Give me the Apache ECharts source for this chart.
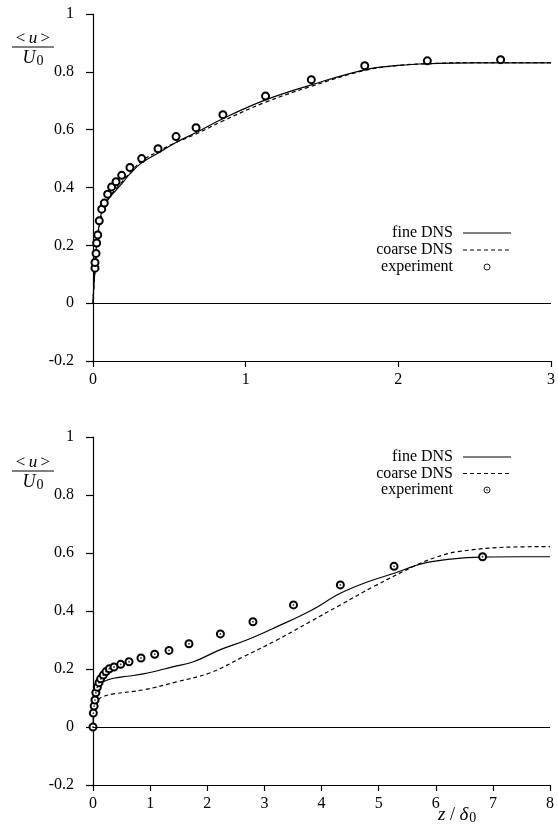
<!DOCTYPE html>
<html>
<head>
<meta charset="utf-8">
<script src="https://cdn.jsdelivr.net/npm/echarts@6/dist/echarts.min.js"></script>
<style>
html,body{margin:0;padding:0;background:#fff;}
#c{width:558px;height:825px;}
</style>
</head>
<body>
<div id="c"></div>
<script>
// ---- Top panel data ----
var topFineZ = [0, 0.002, 0.009, 0.024, 0.04, 0.057, 0.1, 0.15, 0.2, 0.24, 0.32, 0.43, 0.54, 0.675, 0.85, 1.13, 1.43, 1.78, 2.0, 2.19, 2.5, 3.0];
var topFineV = [0, 0.03, 0.084, 0.21, 0.27, 0.314, 0.36, 0.39, 0.42, 0.446, 0.486, 0.52, 0.555, 0.59, 0.638, 0.703, 0.755, 0.807, 0.822, 0.828, 0.831, 0.831];
var topCoarseZ = [0, 0.002, 0.01, 0.025, 0.06, 0.1, 0.2, 0.32, 0.43, 0.54, 0.675, 0.85, 1.13, 1.43, 1.78, 2.0, 2.19, 2.5, 3.0];
var topCoarseV = [0, 0.02, 0.09, 0.2, 0.31, 0.36, 0.425, 0.492, 0.525, 0.555, 0.585, 0.63, 0.695, 0.75, 0.805, 0.822, 0.828, 0.832, 0.832];
var topExpZ = [0.013, 0.013, 0.02, 0.024, 0.031, 0.041, 0.057, 0.074, 0.096, 0.122, 0.151, 0.188, 0.242, 0.319, 0.426, 0.544, 0.675, 0.851, 1.13, 1.43, 1.78, 2.19, 2.67];
var topExpV = [0.121, 0.141, 0.172, 0.208, 0.236, 0.285, 0.325, 0.346, 0.377, 0.402, 0.42, 0.442, 0.469, 0.5, 0.534, 0.576, 0.607, 0.652, 0.716, 0.773, 0.821, 0.838, 0.842];
var topXTicks = [0, 1, 2, 3];

// ---- Bottom panel data ----
var botFineZ = [0, 0.01, 0.03, 0.065, 0.12, 0.18, 0.36, 0.6, 0.88, 1.41, 1.76, 2.22, 2.69, 3.22, 3.8, 4.33, 4.8, 5.27, 5.78, 6.3, 6.82, 7.5, 8];
var botFineV = [0, 0.05, 0.095, 0.128, 0.145, 0.156, 0.168, 0.175, 0.183, 0.208, 0.225, 0.266, 0.30, 0.346, 0.40, 0.461, 0.50, 0.53, 0.564, 0.58, 0.586, 0.587, 0.587];
var botCoarseZ = [0, 0.01, 0.035, 0.09, 0.18, 0.36, 0.88, 1.47, 2.05, 2.63, 3.22, 3.8, 4.33, 4.91, 5.67, 6.0, 6.37, 7.25, 8];
var botCoarseV = [0, 0.03, 0.059, 0.093, 0.105, 0.114, 0.128, 0.156, 0.187, 0.242, 0.30, 0.363, 0.421, 0.484, 0.559, 0.585, 0.604, 0.62, 0.622];
var botExpZ = [0, 0.006, 0.02, 0.035, 0.05, 0.076, 0.105, 0.134, 0.18, 0.228, 0.286, 0.368, 0.485, 0.63, 0.84, 1.08, 1.33, 1.68, 2.23, 2.80, 3.51, 4.33, 5.27, 6.82];
var botExpV = [0, 0.048, 0.072, 0.093, 0.118, 0.137, 0.153, 0.166, 0.179, 0.191, 0.201, 0.207, 0.216, 0.225, 0.238, 0.251, 0.264, 0.287, 0.321, 0.363, 0.421, 0.49, 0.554, 0.587];
var botXTicks = [0, 1, 2, 3, 4, 5, 6, 7, 8];

var yTicks = [-0.2, 0, 0.2, 0.4, 0.6, 0.8, 1];
var legendNames = ['fine DNS', 'coarse DNS', 'experiment'];

function zip(a, b) { return a.map(function (x, i) { return [x, b[i]]; }); }

var FONT = '"Liberation Serif", "DejaVu Serif", serif';

function xAxisCfg(gi, ticks) {
  return {
    type: 'value', gridIndex: gi,
    min: ticks[0], max: ticks[ticks.length - 1], interval: 1,
    axisLine: { show: true, onZero: false, lineStyle: { color: '#000', width: 1.2 } },
    axisTick: { show: true, inside: false, length: 6, lineStyle: { color: '#000', width: 1.2 } },
    axisLabel: { color: '#000', fontFamily: FONT, fontSize: 16, margin: 11 },
    splitLine: { show: false }
  };
}
function yAxisCfg(gi) {
  return {
    type: 'value', gridIndex: gi,
    min: yTicks[0], max: yTicks[yTicks.length - 1], interval: 0.2,
    axisLine: { show: true, onZero: false, lineStyle: { color: '#000', width: 1.2 } },
    axisTick: { show: true, inside: false, length: 7, lineStyle: { color: '#000', width: 1.2 } },
    axisLabel: { color: '#000', fontFamily: FONT, fontSize: 16, margin: 19,
      formatter: function (v) { return String(Math.round(v * 10) / 10); } },
    splitLine: { show: false }
  };
}
var zeroLine = {
  symbol: 'none', silent: true, animation: false,
  lineStyle: { color: '#000', width: 1, type: 'solid' },
  label: { show: false },
  data: [{ yAxis: 0 }]
};

function lineSeries(name, gi, data, dashed, withZero) {
  var s = {
    name: name, type: 'line', xAxisIndex: gi, yAxisIndex: gi,
    data: data, showSymbol: false, symbol: 'none',
    smooth: 0.4,
    lineStyle: { color: '#000', width: 1.2, type: dashed ? [4, 3] : 'solid' },
    itemStyle: { color: '#000' },
    z: 2
  };
  if (withZero) s.markLine = zeroLine;
  return s;
}

function legendGraphic(x, y0, dy, dotted) {
  var els = [];
  var styleText = { fill: '#000', font: '16px ' + FONT, textAlign: 'right', textVerticalAlign: 'middle' };
  legendNames.forEach(function (n, i) {
    els.push({ type: 'text', x: x, y: y0 + i * dy,
      style: Object.assign({ text: n }, styleText) });
  });
  els.push({ type: 'line', shape: { x1: x + 10, y1: y0, x2: x + 58, y2: y0 },
    style: { stroke: '#000', lineWidth: 1.2 } });
  els.push({ type: 'line', shape: { x1: x + 10, y1: y0 + dy, x2: x + 58, y2: y0 + dy },
    style: { stroke: '#000', lineWidth: 1.2, lineDash: [4, 3] } });
  els.push({ type: 'circle', shape: { cx: x + 34, cy: y0 + 2 * dy, r: 3 },
    style: { stroke: '#000', fill: '#fff', lineWidth: 0.9 } });
  if (dotted) {
    els.push({ type: 'circle', shape: { cx: x + 34, cy: y0 + 2 * dy, r: 0.8 },
      style: { fill: '#000' } });
  }
  return els;
}

function yLabelGraphic(cx, cy) {
  return [
    { type: 'text', x: cx, y: cy - 8,
      style: { text: '{n|<} {i|u} {n|>}', textAlign: 'center', textVerticalAlign: 'middle',
        rich: { n: { font: '17px ' + FONT, fill: '#000' }, i: { font: 'italic 17px ' + FONT, fill: '#000' } } } },
    { type: 'line', shape: { x1: cx - 21, y1: cy, x2: cx + 21, y2: cy }, style: { stroke: '#000', lineWidth: 1 } },
    { type: 'text', x: cx, y: cy + 11,
      style: { text: '{i|U}{s|0}', textAlign: 'center', textVerticalAlign: 'middle',
        rich: { i: { font: 'italic 18px ' + FONT, fill: '#000' }, s: { font: '14px ' + FONT, fill: '#000', padding: [6, 0, 0, 1] } } } }
  ];
}

var graphics = [].concat(
  legendGraphic(453, 233, 17, false),
  legendGraphic(453, 457, 16.5, true),
  yLabelGraphic(33, 47),
  yLabelGraphic(33, 471),
  [{ type: 'text', x: 438, y: 815,
     style: { text: '{i|z}{n| / }{i|δ}{s|0}', textVerticalAlign: 'middle',
       rich: { i: { font: 'italic 19px ' + FONT, fill: '#000' }, n: { font: '18px ' + FONT, fill: '#000' },
               s: { font: '14px ' + FONT, fill: '#000', padding: [7, 0, 0, 1] } } } }]
);

var chart = echarts.init(document.getElementById('c'), null, { renderer: 'canvas' });
chart.setOption({
  backgroundColor: '#fff',
  animation: false,
  grid: [
    { left: 93, top: 14, width: 458, height: 347 },
    { left: 93, top: 437, width: 457, height: 348 }
  ],
  xAxis: [xAxisCfg(0, topXTicks), xAxisCfg(1, botXTicks)],
  yAxis: [yAxisCfg(0), yAxisCfg(1)],
  series: [
    lineSeries(legendNames[0], 0, zip(topFineZ, topFineV), false, true),
    lineSeries(legendNames[1], 0, zip(topCoarseZ, topCoarseV), true, false),
    { name: legendNames[2], type: 'scatter', xAxisIndex: 0, yAxisIndex: 0, z: 3,
      data: zip(topExpZ, topExpV), symbol: 'emptyCircle', symbolSize: 7,
      itemStyle: { color: '#000', borderColor: '#000', borderWidth: 0.9, opacity: 1 } },
    lineSeries(legendNames[0], 1, zip(botFineZ, botFineV), false, true),
    lineSeries(legendNames[1], 1, zip(botCoarseZ, botCoarseV), true, false),
    { name: legendNames[2], type: 'scatter', xAxisIndex: 1, yAxisIndex: 1, z: 3,
      data: zip(botExpZ, botExpV), symbol: 'emptyCircle', symbolSize: 7,
      itemStyle: { color: '#000', borderColor: '#000', borderWidth: 0.9, opacity: 1 } },
    { name: 'expDot', type: 'scatter', xAxisIndex: 1, yAxisIndex: 1, silent: true, z: 4,
      data: zip(botExpZ, botExpV), symbol: 'circle', symbolSize: 1.8,
      itemStyle: { color: '#000' } }
  ],
  graphic: graphics
});
</script>
</body>
</html>
